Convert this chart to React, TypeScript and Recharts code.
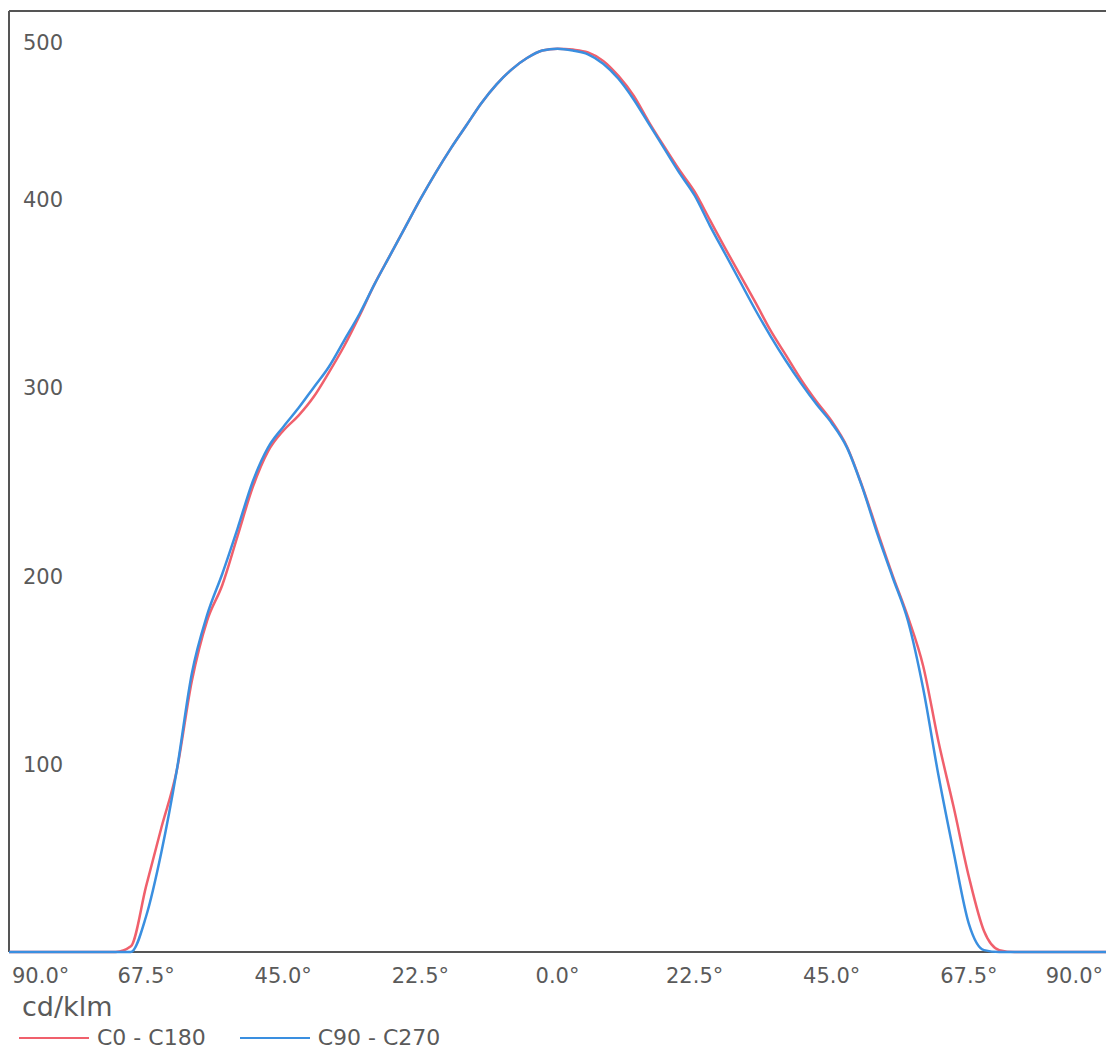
import React from "react";
import { LineChart, Line, XAxis, YAxis, ReferenceLine } from "recharts";

const ANGLES: number[] = [
  -90, -87.5, -85, -82.5, -80, -77.5, -75, -72.5, -70, -67.5, -65, -62.5, -60, -57.5, -55, -52.5,
  -50, -47.5, -45, -42.5, -40, -37.5, -35, -32.5, -30, -27.5, -25, -22.5, -20, -17.5, -15, -12.5,
  -10, -7.5, -5, -2.5, 0, 2.5, 5, 7.5, 10, 12.5, 15, 17.5, 20, 22.5, 25, 27.5, 30, 32.5, 35, 37.5,
  40, 42.5, 45, 47.5, 50, 52.5, 55, 57.5, 60, 62.5, 65, 67.5, 70, 72.5, 75, 77.5, 80, 82.5, 85, 87.5, 90,
];

const C0_C180: number[] = [
  0, 0, 0, 0, 0, 0, 0, 0, 3, 35, 66, 96, 144, 176, 195, 221,
  247, 266, 277, 285, 295, 308, 322, 338, 355, 370, 385, 400, 414, 427, 439, 451,
  461, 469, 475, 479, 480, 479.5, 478, 473.5, 465.5, 455, 441, 428, 415.5, 404, 389, 374, 359.5, 345, 330, 317,
  304, 292.5, 282, 268.5, 247.5, 223.5, 200, 178, 152, 112, 77, 40, 11, 1, 0, 0, 0, 0, 0, 0, 0,
];

const C90_C270: number[] = [
  0, 0, 0, 0, 0, 0, 0, 0, 0, 19, 53, 96, 148, 179, 201, 225,
  250, 268, 279, 289, 300, 311, 325, 339, 355, 370, 385, 400, 414, 427, 439, 451,
  461, 469, 475, 479, 480, 479, 477, 472, 464, 453, 440, 427, 414, 402, 386, 371, 356, 341, 327, 314,
  302, 291, 281, 268, 247, 222, 199, 176, 140, 94, 53, 15, 1, 0, 0, 0, 0, 0, 0, 0, 0,
];

const X_TICKS: number[] = [-90, -67.5, -45, -22.5, 0, 22.5, 45, 67.5, 90];
const Y_TICKS: number[] = [100, 200, 300, 400, 500];
const X_MIN = -90;
const Y_MAX = 500;
const UNIT_LABEL = "cd/klm";
const SERIES_NAMES: string[] = ["C0 - C180", "C90 - C270"];
const SERIES_COLORS: string[] = ["#f0606c", "#3a8fe0"];

const data = ANGLES.map((a, i) => ({ angle: a, c0: C0_C180[i], c90: C90_C270[i] }));

const FONT = "'DejaVu Sans', Verdana, sans-serif";
const TEXT_COLOR = "#5a5a5a";
const AXIS_COLOR = "#555555";

const XTick = (props: any) => {
  const { x, y, payload, index } = props;
  const label = `${Math.abs(payload.value).toFixed(1)}°`;
  let anchor: "start" | "middle" | "end" = "middle";
  let dx = 0;
  if (index === 0) {
    anchor = "start";
    dx = 3;
  } else if (index === X_TICKS.length - 1) {
    anchor = "end";
    dx = -3;
  }
  return (
    <text x={x + dx} y={y + 31} textAnchor={anchor} fill={TEXT_COLOR} fontSize={21} fontFamily={FONT}>
      {label}
    </text>
  );
};

const YTick = (props: any) => {
  const { x, y, payload } = props;
  const extra = payload.value === Y_MAX ? 31 : 0;
  return (
    <text x={x + 14} y={y + extra + 8} textAnchor="start" fill={TEXT_COLOR} fontSize={21} fontFamily={FONT}>
      {payload.value}
    </text>
  );
};

export default function App() {
  return (
    <div
      style={{
        position: "absolute",
        left: 0,
        top: 0,
        width: 1106,
        height: 1051,
        background: "#fff",
        overflow: "hidden",
      }}
    >
      <LineChart
        width={1106}
        height={1051}
        data={data}
        accessibilityLayer={false}
        style={{ outline: "none" }}
        margin={{ top: 11, right: 0, bottom: 69, left: 4 }}
      >
        <XAxis
          dataKey="angle"
          type="number"
          domain={[-90, 90]}
          ticks={X_TICKS}
          interval={0}
          height={30}
          tickLine={false}
          tickSize={0}
          tickMargin={0}
          axisLine={false}
          tick={<XTick />}
        />
        <YAxis
          type="number"
          domain={[0, Y_MAX]}
          ticks={Y_TICKS}
          interval={0}
          width={5}
          tickLine={false}
          tickSize={0}
          tickMargin={0}
          axisLine={false}
          tick={<YTick />}
        />
        <ReferenceLine y={Y_MAX} stroke={AXIS_COLOR} strokeWidth={2} />
        <ReferenceLine y={0} stroke={AXIS_COLOR} strokeWidth={2} />
        <ReferenceLine x={X_MIN} stroke={AXIS_COLOR} strokeWidth={2} />
        <Line
          type="monotone"
          dataKey="c0"
          name={SERIES_NAMES[0]}
          stroke={SERIES_COLORS[0]}
          strokeWidth={2.5}
          dot={false}
          isAnimationActive={false}
        />
        <Line
          type="monotone"
          dataKey="c90"
          name={SERIES_NAMES[1]}
          stroke={SERIES_COLORS[1]}
          strokeWidth={2.5}
          dot={false}
          isAnimationActive={false}
        />
      </LineChart>
      <div
        style={{
          position: "absolute",
          left: 22,
          top: 992,
          fontFamily: FONT,
          color: TEXT_COLOR,
          fontSize: 27,
          lineHeight: "30px",
        }}
      >
        {UNIT_LABEL}
      </div>
      <div
        style={{
          position: "absolute",
          left: 19,
          top: 1025,
          display: "flex",
          alignItems: "center",
          fontFamily: FONT,
          color: TEXT_COLOR,
          fontSize: 22,
          lineHeight: "26px",
        }}
      >
        {SERIES_NAMES.map((name, i) => (
          <div key={name} style={{ display: "flex", alignItems: "center", marginRight: 34 }}>
            <div style={{ width: 70, height: 2, background: SERIES_COLORS[i], marginRight: 8 }} />
            <span>{name}</span>
          </div>
        ))}
      </div>
    </div>
  );
}
